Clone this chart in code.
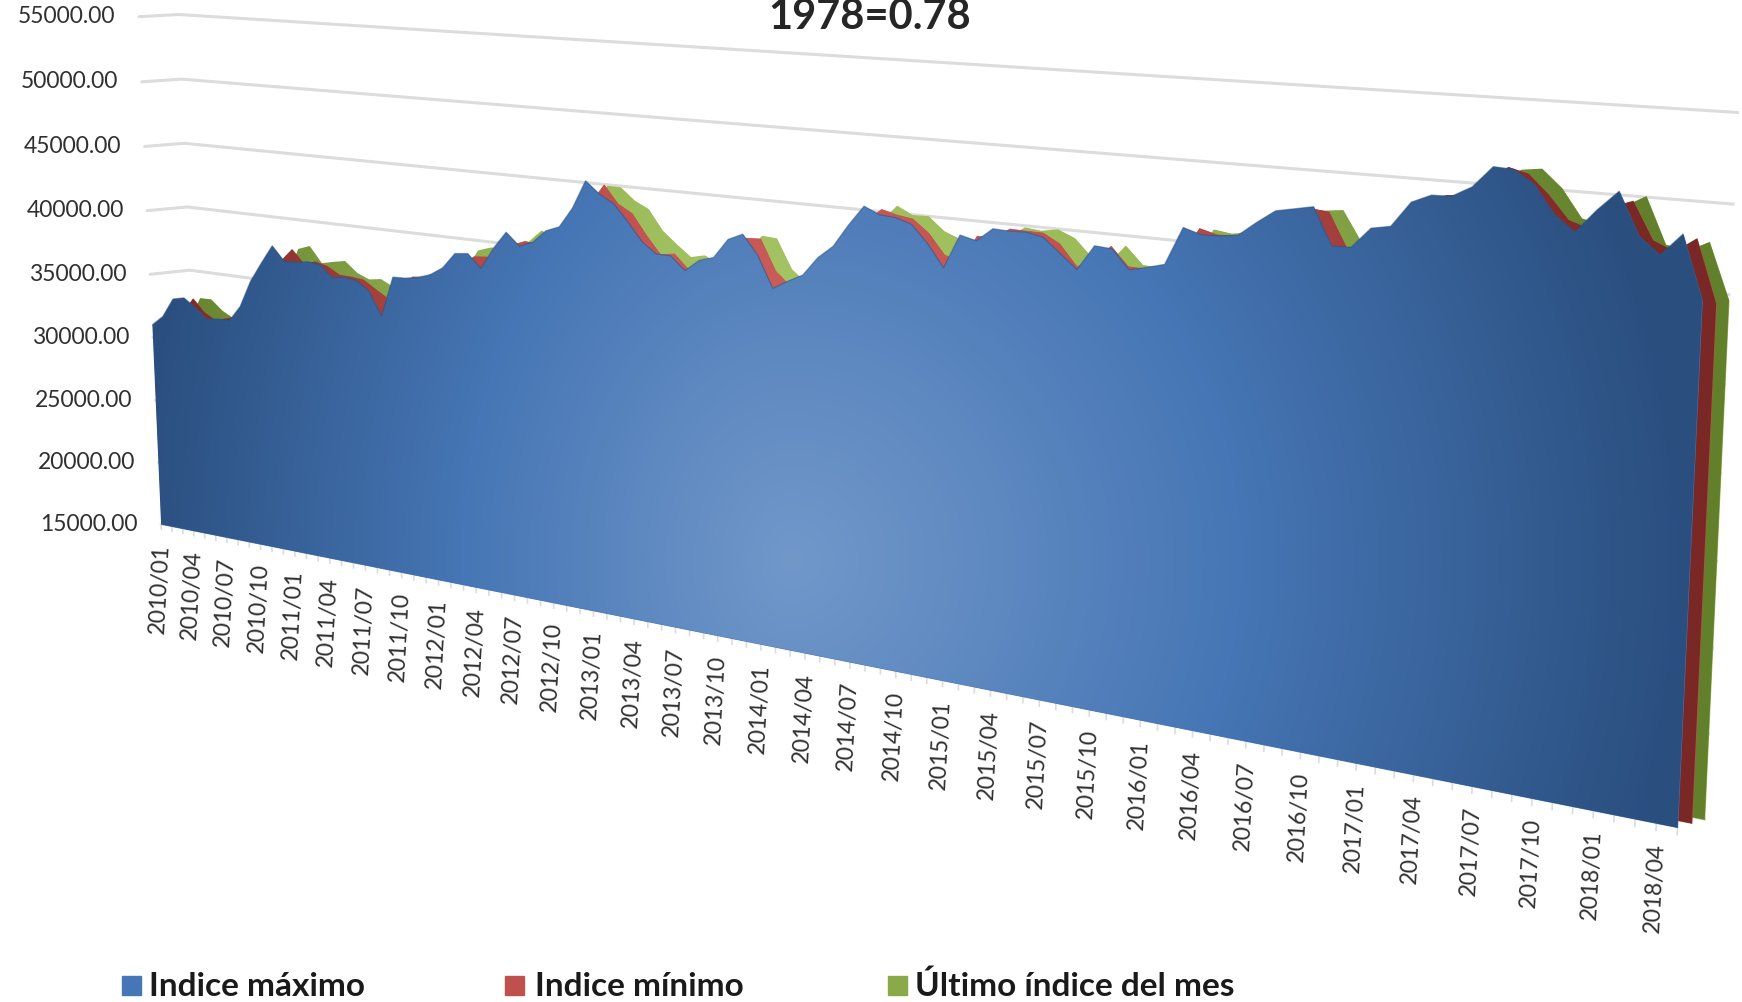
import numpy as np, pandas as pd, seaborn as sns, matplotlib
matplotlib.use("Agg")
import matplotlib.pyplot as plt
from matplotlib.transforms import Transform
from matplotlib.colors import LinearSegmentedColormap as LSC

# Monthly index values (2010/01 - 2018/05)
indice_maximo = [31010,31800,33290,33500,32850,32080,32220,32220,33420,35490,36990,38420,37340,37390,37540,37420,36580,36700,36590,35930,34160,37180,37220,37390,37700,38310,39460,39570,38600,40170,41420,40520,40920,41830,42210,43620,45620,44790,44230,43080,41800,41060,41050,40140,40950,41260,42590,43050,41740,39620,40220,40750,42020,42880,44380,45710,45240,45160,44830,43700,
 42240,44450,44190,45060,45010,45050,44830,43930,43030,44620,44540,43350,43610,43910,46270,45930,45960,46110,46980,47770,47990,48210,45990,46030,47250,47460,48960,49460,49490,50120,51360,51290,50540,48960,48060,49390,50530,48160,47210,48470,44950]
indice_minimo = [31210,31930,33170,32190,31680,31980,32200,32550,33810,35780,37030,38020,37020,37300,37050,36510,36480,36370,35770,35190,34550,37060,37150,37360,37780,38400,39110,39200,38840,40270,40650,40530,40990,41870,42470,43890,45250,44000,43440,42030,40790,40950,39950,40190,40940,41390,42560,42620,40550,39640,40220,40880,42100,43070,44520,45400,45130,44970,44150,42830,
 42530,44280,44240,44940,44910,44900,44310,43010,43220,44500,43330,43280,43520,44230,46110,45820,45860,46140,47020,47700,47920,47800,45710,46140,47160,47590,48940,49360,49450,50250,51250,50950,49870,48530,48140,49470,49900,47800,47290,48130,44640]
ultimo_indice = [31160,32910,32930,32150,31660,32240,32660,32890,34050,35590,37780,38110,36910,37120,37300,36510,36130,36270,35790,35960,34510,37090,37210,37540,37840,39300,39620,39670,38810,40380,41280,40620,41130,42200,42610,44950,44930,44100,43610,42200,41360,40580,40810,40260,41110,41390,42580,42520,40550,39710,40410,41020,42340,43240,44380,45510,44990,45030,44150,43740,
 42450,44400,44190,44910,44800,44990,44540,43460,43170,44390,43290,43260,43870,44180,45920,45770,45950,46240,47020,47700,47670,47800,46000,46140,47310,47680,48920,49370,49610,50240,51000,51150,50130,48520,48270,49410,50070,47460,47220,47830,44710]
valores_eje = [15000,20000,25000,30000,35000,40000,45000,50000,55000]
fechas = pd.date_range('2010-01-01', periods=len(indice_maximo), freq='MS')
etiquetas = [d.strftime('%Y/%m') for d in fechas]
titulo = '1978=0.78'
nombres = ['Indice máximo', 'Indice mínimo', 'Último índice del mes']

# Perspective of the 3-D chart: unit square of (month, value) -> pixel corners
CORNERS = [(161.1,524.4),(138.9,16.7),(1677.6,827.7),(1710.9,115.5)]
VANISH = (5444.,-278.)
M, b = [], []
for (u,w),(x,y) in zip([(0,0),(0,1),(1,0),(1,1)], CORNERS):
    M.append([u,w,1,0,0,0,-u*x,-w*x]); b.append(x)
    M.append([0,0,0,u,w,1,-u*y,-w*y]); b.append(y)
h = np.append(np.linalg.solve(np.array(M,float),np.array(b,float)),1).reshape(3,3)

def projv(i, v, f):
    i = np.asarray(i,float); v = np.asarray(v,float)
    u = i/100; w = (v-15000)/40000
    d = h[2,0]*u+h[2,1]*w+1
    X = (h[0,0]*u+h[0,1]*w+h[0,2])/d; Y = (h[1,0]*u+h[1,1]*w+h[1,2])/d
    return np.column_stack([X+f*(VANISH[0]-X), Y+f*(VANISH[1]-Y)])

class Persp(Transform):
    input_dims = output_dims = 2
    is_separable = False
    def __init__(self, f):
        super().__init__(); self.f = f
    def transform_non_affine(self, xy):
        xy = np.asarray(xy,float)
        return projv(xy[:,0], xy[:,1], self.f)

sns.set_theme(style="white")
plt.rcParams['font.family'] = ['Lato','DejaVu Sans']
fig = plt.figure(figsize=(17.42,10.02), dpi=100)
ax = fig.add_axes([0,0,1,1]); ax.set_xlim(0,1742); ax.set_ylim(1002,0); ax.axis('off')
T = lambda f: Persp(f)+ax.transData
idx = np.arange(len(indice_maximo))
BACK = 0.0075

for v in valores_eje:
    ax.plot([0,100],[v,v],transform=T(BACK),color='#dcdcdc',lw=2.2,zorder=1,solid_capstyle='butt')
    p0 = projv(0,v,0.0)[0]; p1 = projv(0,v,BACK)[0]
    ax.plot([p0[0],p1[0]],[p0[1],p1[1]],color='#dcdcdc',lw=2.2,zorder=1)
    ax.annotate(f"{v:.2f}",xy=(p0[0],p0[1]),xytext=(-17,0),textcoords='offset points',ha='right',va='center',fontsize=16.5,color='#303030')
ax.vlines(idx,14550,15000,transform=T(0.0),color='#dcdcdc',lw=1.2,zorder=1)

yy,xx = np.mgrid[0:1002:4,0:1742:4]
cx,cy = 790,560
rx = np.where(xx<cx,660,900)
r = np.clip(np.sqrt(((xx-cx)/rx)**2+((yy-cy)/900)**2),0,1)
def band(vals,f,cols,zo):
    c = ax.fill_between(idx,15000,vals,transform=T(f),color=cols[1],lw=0,zorder=zo)
    im = ax.imshow(r,cmap=LSC.from_list('g',cols),vmin=0,vmax=1,extent=(0,1742,1002,0),aspect='auto',zorder=zo+.1,interpolation='bilinear')
    im.set_clip_path(c.get_paths()[0],c.get_transform())
band(ultimo_indice,0.0072,['#b4d274','#9bbb59','#62802c'],3)
band(indice_minimo,0.0038,['#d9706c','#c0504d','#7a2825'],4)
band(indice_maximo,0.0,['#7298ca','#4676b5','#2a4e7e'],5)
sns.lineplot(x=idx,y=indice_maximo,ax=ax,transform=T(0.0),color='#2c4f80',lw=.9,alpha=.5,zorder=6,errorbar=None)

for i in range(0,len(etiquetas),3):
    ax.annotate(etiquetas[i],xy=(i,15000),xycoords=T(0.0),xytext=(0.5,-14),textcoords='offset points',rotation=87,rotation_mode='anchor',ha='right',va='center',fontsize=16.5,color='#303030')
ax.set_xlim(0,1742); ax.set_ylim(1002,0)
ax.text(870,17,titulo,ha='center',va='center',fontsize=30,fontweight='bold',color='#262626')
for x0,tx,lab,col in zip([122,505,888],[149,535,915],nombres,['#4676b5','#c0504d','#8aaa4a']):
    ax.add_patch(plt.Rectangle((x0,976),19,19,color=col,zorder=3))
    ax.text(tx,986,lab,ha='left',va='center',fontsize=24,fontweight='bold',color='#1a1a1a')
fig.savefig('out.png',dpi=100)
